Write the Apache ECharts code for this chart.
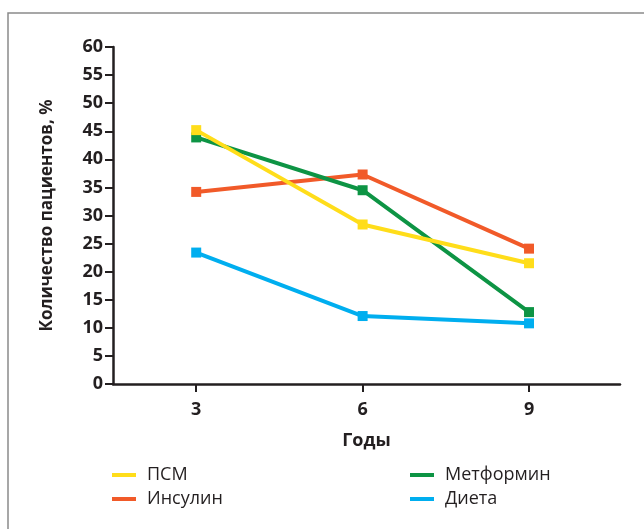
<!DOCTYPE html>
<html><head><meta charset="utf-8">
<script src="https://cdn.jsdelivr.net/npm/echarts@6/dist/echarts.min.js"></script>
<style>html,body{margin:0;padding:0;background:#fff}#c{width:644px;height:529px}</style>
</head><body><div id="c"></div>
<script>
const years = [3, 6, 9];
const yTicks = [0, 5, 10, 15, 20, 25, 30, 35, 40, 45, 50, 55, 60];
const psm = [45.2, 28.4, 21.5];
const insulin = [34.2, 37.3, 24.1];
const metformin = [43.9, 34.5, 12.8];
const diet = [23.4, 12.1, 10.8];
const seriesNames = ['ПСМ', 'Инсулин', 'Метформин', 'Диета'];
const colors = ['#FFDD1A', '#F15A29', '#0D9444', '#00AEEF'];

const F = '"Open Sans", "Noto Sans", sans-serif';
const dark = '#231F20';
const chart = echarts.init(document.getElementById('c'));
const allData = [psm, insulin, metformin, diet];
const series = allData.map((d, i) => ({
  name: seriesNames[i],
  type: 'line',
  data: d.map((v, k) => [years[k], v]),
  symbol: 'rect',
  symbolSize: 10,
  z: i === 0 ? 5 : 3,
  lineStyle: { width: 4, color: colors[i] },
  itemStyle: { color: colors[i] },
  animation: false
}));
chart.setOption({
  animation: false,
  grid: { left: 113, top: 47, right: 24, bottom: 145 },
  xAxis: {
    type: 'value', min: 1.5, max: 10.64,
    name: 'Годы', nameLocation: 'middle', nameGap: 48,
    nameTextStyle: { fontFamily: F, fontWeight: 'bold', fontSize: 18, color: dark },
    axisLine: { lineStyle: { color: dark, width: 2.5 } },
    axisTick: { customValues: years, length: 8, lineStyle: { color: dark, width: 2 } },
    axisLabel: { customValues: years, margin: 17, fontFamily: F, fontWeight: 'bold', fontSize: 18, color: dark },
    splitLine: { show: false }
  },
  yAxis: {
    type: 'value', min: 0, max: 60, interval: 5,
    name: 'Количество пациентов, %', nameLocation: 'middle', nameGap: 57,
    nameTextStyle: { fontFamily: F, fontWeight: 'bold', fontSize: 17, color: dark },
    axisLine: { show: true, lineStyle: { color: dark, width: 2.5 } },
    axisTick: { show: true, length: 8, lineStyle: { color: dark, width: 2 } },
    axisLabel: { margin: 10, fontFamily: F, fontWeight: 'bold', fontSize: 18, color: dark,
      formatter: v => yTicks.includes(v) ? String(v) : '' },
    splitLine: { show: false }
  },
  legend: [
    { data: [seriesNames[0], seriesNames[1]], orient: 'vertical', left: 107, top: 461,
      itemWidth: 24, itemHeight: 4, itemGap: 6, icon: 'rect',
      textStyle: { fontFamily: F, fontSize: 18, color: dark, padding: [0, 0, 0, 6] } },
    { data: [seriesNames[2], seriesNames[3]], orient: 'vertical', left: 405, top: 461,
      itemWidth: 24, itemHeight: 4, itemGap: 6, icon: 'rect',
      textStyle: { fontFamily: F, fontSize: 18, color: dark, padding: [0, 0, 0, 6] } }
  ],
  graphic: [{ type: 'rect', shape: { x: 8, y: 13, width: 700, height: 600 },
    style: { fill: 'none', stroke: '#8a8a8a', lineWidth: 1.5 }, silent: true }],
  series
});
</script></body></html>
